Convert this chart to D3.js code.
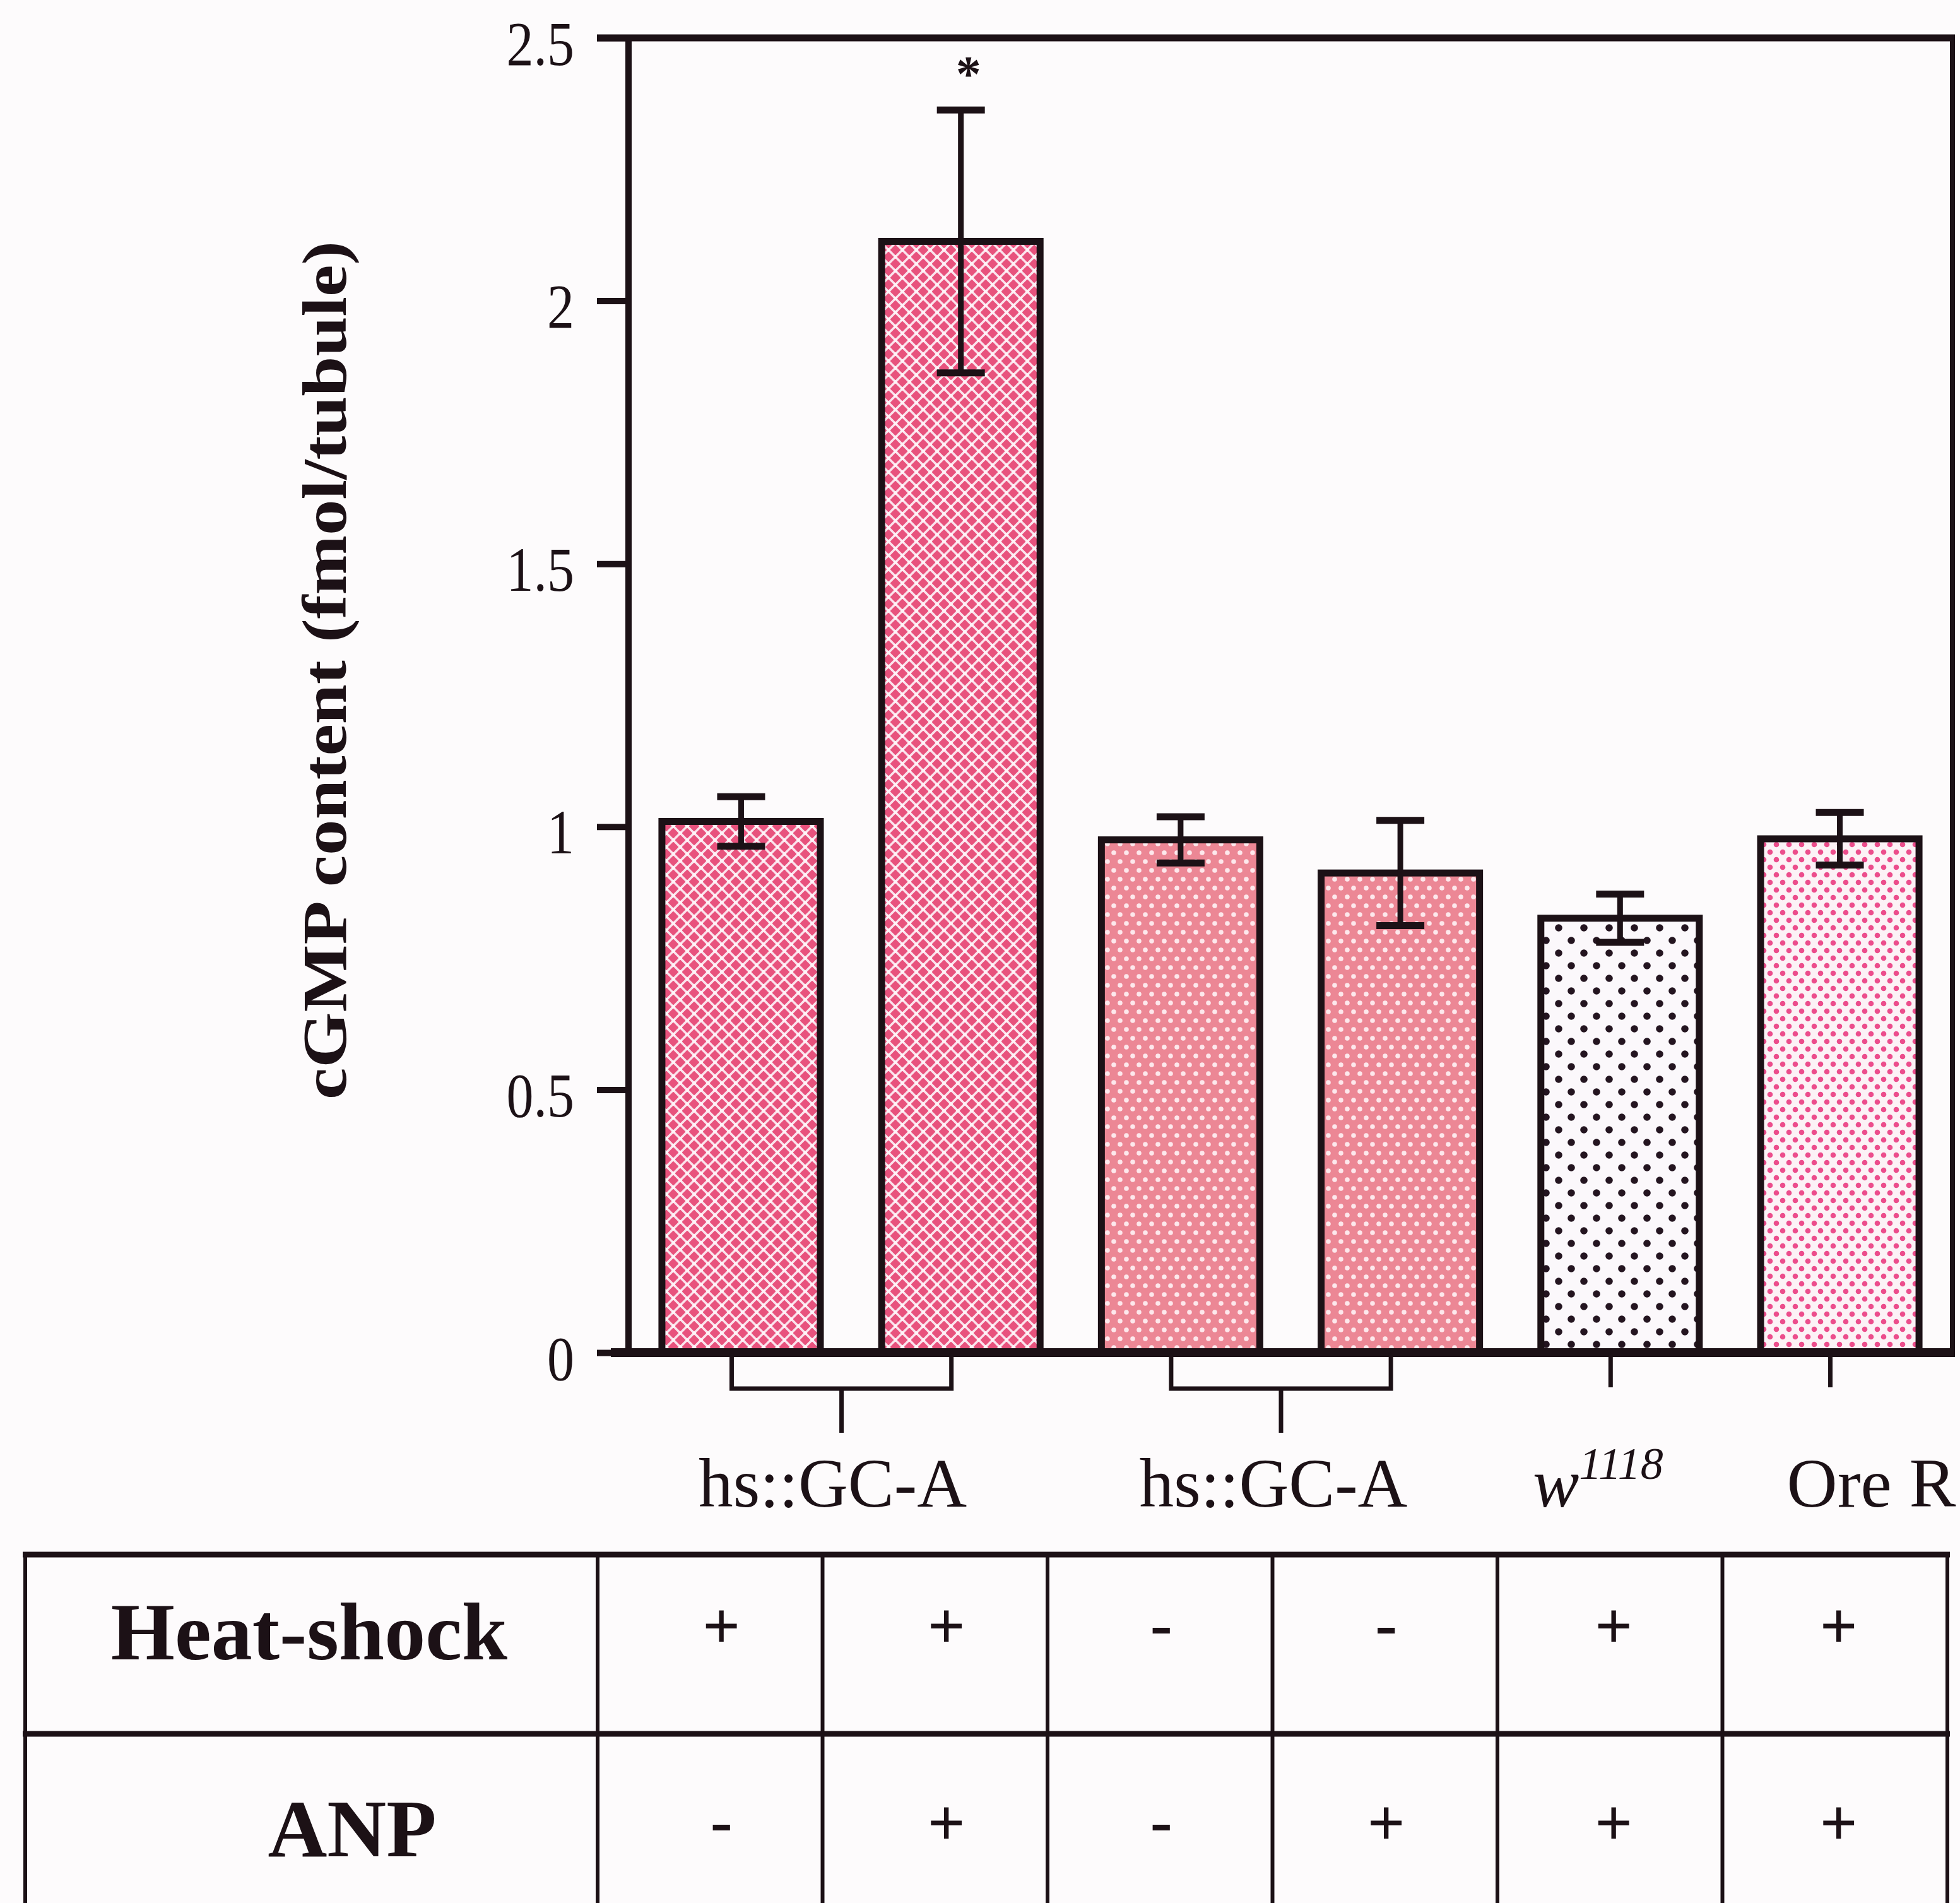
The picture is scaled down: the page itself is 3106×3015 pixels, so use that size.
<!DOCTYPE html>
<html>
<head>
<meta charset="utf-8">
<script src="https://cdn.jsdelivr.net/npm/d3@7"></script>
<style>
  html, body { margin: 0; padding: 0; background: #fdfbfc; }
  svg { display: block; }
</style>
</head>
<body>
<script>
// ---------- data ----------
const conditions = ["hsGCA_hs_noANP", "hsGCA_hs_ANP", "hsGCA_nohs_noANP", "hsGCA_nohs_ANP", "w1118", "OreR"];
const cGMP = [1.01, 2.113, 0.975, 0.912, 0.826, 0.977];
const sem = [0.047, 0.25, 0.044, 0.1, 0.046, 0.05];
const significance = ["", "*", "", "", "", ""];
const groupLabels = ["hs::GC-A", "hs::GC-A", "w1118", "Ore R"];
const groupMembers = [[0, 1], [2, 3], [4, 4], [5, 5]];
const tableRows = ["Heat-shock", "ANP"];
const heatShock = ["+", "+", "-", "-", "+", "+"];
const anp = ["-", "+", "-", "+", "+", "+"];
const yTicks = [0, 0.5, 1, 1.5, 2, 2.5];
const yTickLabels = ["0", "0.5", "1", "1.5", "2", "2.5"];
const yLabel = "cGMP content (fmol/tubule)";

// ---------- layout / style ----------
const W = 3106, H = 3015;
const plot = { left: 996, right: 3094, top: 60, bottom: 2143 };
const serif = "'Liberation Serif', 'DejaVu Serif', serif";
const ink = "#1c1116";
const fills = ["url(#pHatch)", "url(#pHatch)", "url(#pSalmon)", "url(#pSalmon)", "url(#pBlack)", "url(#pPink)"];

const svg = d3.select("body").append("svg").attr("width", W).attr("height", H);
svg.append("rect").attr("width", W).attr("height", H).attr("fill", "#fdfbfc");

// patterns
const defs = svg.append("defs");
const hp = 22;
const p1 = defs.append("pattern").attr("id", "pHatch").attr("patternUnits", "userSpaceOnUse")
  .attr("width", hp).attr("height", hp);
p1.append("rect").attr("width", hp).attr("height", hp).attr("fill", "#e8527d");
p1.append("path").attr("d", `M0,0L${hp},${hp}M${hp},0L0,${hp}`)
  .attr("stroke", "#fbe3ec").attr("stroke-width", 3.6);
[[hp / 2, hp / 2], [0, 0], [hp, 0], [0, hp], [hp, hp]].forEach(([a, b]) =>
  p1.append("circle").attr("cx", a).attr("cy", b).attr("r", 2.8).attr("fill", "#fff4f8"));

const p2 = defs.append("pattern").attr("id", "pSalmon").attr("patternUnits", "userSpaceOnUse")
  .attr("width", 20).attr("height", 28);
p2.append("rect").attr("width", 20).attr("height", 28).attr("fill", "#ec8795");
[[5, 7], [15, 21]].forEach(([a, b]) =>
  p2.append("circle").attr("cx", a).attr("cy", b).attr("r", 3.8).attr("fill", "#fde8ec"));

const p3 = defs.append("pattern").attr("id", "pBlack").attr("patternUnits", "userSpaceOnUse")
  .attr("width", 40).attr("height", 40);
p3.append("rect").attr("width", 40).attr("height", 40).attr("fill", "#fbf8fb");
[[10, 10], [30, 30]].forEach(([a, b]) =>
  p3.append("circle").attr("cx", a).attr("cy", b).attr("r", 5.8).attr("fill", "#241520"));

const p4 = defs.append("pattern").attr("id", "pPink").attr("patternUnits", "userSpaceOnUse")
  .attr("width", 20).attr("height", 24);
p4.append("rect").attr("width", 20).attr("height", 24).attr("fill", "#fcf2f6");
[[5, 6], [15, 18]].forEach(([a, b]) =>
  p4.append("circle").attr("cx", a).attr("cy", b).attr("r", 4.3).attr("fill", "#ec4d8c"));

// scales
const x = d3.scaleBand().domain(conditions).range([plot.left, plot.right])
  .paddingInner(0.279).paddingOuter(0.152);
const y = d3.scaleLinear().domain([0, 2.5]).range([plot.bottom, plot.top]);
const cx = i => x(conditions[i]) + x.bandwidth() / 2;

// bars
svg.append("g").selectAll("rect").data(conditions).join("rect")
  .attr("x", d => x(d)).attr("y", (d, i) => y(cGMP[i]))
  .attr("width", x.bandwidth()).attr("height", (d, i) => y(0) - y(cGMP[i]))
  .attr("fill", (d, i) => fills[i]).attr("stroke", ink).attr("stroke-width", 11);

// error bars
const eb = svg.append("g").attr("stroke", ink);
conditions.forEach((d, i) => {
  const c = cx(i), capW = 76;
  eb.append("line").attr("x1", c).attr("x2", c)
    .attr("y1", y(cGMP[i] - sem[i])).attr("y2", y(cGMP[i] + sem[i])).attr("stroke-width", 9);
  [cGMP[i] - sem[i], cGMP[i] + sem[i]].forEach(v =>
    eb.append("line").attr("x1", c - capW / 2).attr("x2", c + capW / 2)
      .attr("y1", y(v)).attr("y2", y(v)).attr("stroke-width", 11));
  if (significance[i]) {
    svg.append("text").attr("x", c + 12).attr("y", y(cGMP[i] + sem[i]) - 30)
      .attr("text-anchor", "middle").attr("font-family", serif).attr("font-weight", "bold")
      .attr("font-size", 80).attr("fill", ink).text(significance[i]);
  }
});

// y axis
const yAxis = d3.axisLeft(y).tickValues(yTicks)
  .tickFormat((d, i) => yTickLabels[i]).tickSize(50).tickPadding(0);
const ga = svg.append("g").attr("transform", `translate(${plot.left},0)`).call(yAxis);
ga.select(".domain").remove();
ga.selectAll(".tick line").attr("stroke", ink).attr("stroke-width", 10);
ga.selectAll(".tick text").attr("x", 0).attr("dy", "0.42em")
  .attr("transform", "translate(-86,0) scale(0.86,1)")
  .attr("font-family", serif).attr("font-size", 100).attr("fill", ink);

// frame
const frame = svg.append("g").attr("stroke", ink).attr("fill", "none");
frame.append("line").attr("x1", plot.left).attr("x2", plot.left)
  .attr("y1", plot.top).attr("y2", plot.bottom).attr("stroke-width", 10);
frame.append("line").attr("x1", plot.left - 50).attr("x2", plot.right + 4)
  .attr("y1", plot.top).attr("y2", plot.top).attr("stroke-width", 11);
frame.append("line").attr("x1", plot.right).attr("x2", plot.right)
  .attr("y1", plot.top).attr("y2", plot.bottom).attr("stroke-width", 8);
frame.append("line").attr("x1", plot.left - 28).attr("x2", plot.right + 4)
  .attr("y1", plot.bottom).attr("y2", plot.bottom).attr("stroke-width", 14);

// group brackets and labels
const br = svg.append("g").attr("stroke", ink).attr("fill", "none").attr("stroke-width", 7);
const shift = -15;
const labelDx = [-14, -12, -20, 65];
groupMembers.forEach((m, gi) => {
  const a = cx(m[0]) + shift, b = cx(m[1]) + shift;
  const yb = plot.bottom;
  let stemX;
  if (m[0] !== m[1]) {
    br.append("path").attr("d", `M${a},${yb}V${yb + 57}H${b}V${yb}`);
    stemX = (a + b) / 2;
    br.append("line").attr("x1", stemX).attr("x2", stemX)
      .attr("y1", yb + 57).attr("y2", yb + 127);
  } else {
    stemX = a;
    br.append("line").attr("x1", stemX).attr("x2", stemX)
      .attr("y1", yb).attr("y2", yb + 55);
  }
  const t = svg.append("text").attr("x", stemX + labelDx[gi]).attr("y", 2387)
    .attr("text-anchor", "middle").attr("font-family", serif).attr("font-size", 110).attr("fill", ink);
  if (groupLabels[gi] === "w1118") {
    t.append("tspan").attr("font-style", "italic").text("w");
    t.append("tspan").attr("font-style", "italic").attr("font-size", 72).attr("dy", -44).text("1118");
  } else if (groupLabels[gi].startsWith("hs")) {
    t.attr("textLength", 425).attr("lengthAdjust", "spacingAndGlyphs").text(groupLabels[gi]);
  } else {
    t.attr("textLength", 268).attr("lengthAdjust", "spacingAndGlyphs").text(groupLabels[gi]);
  }
});

// y label
svg.append("text").attr("transform", "translate(548,1062) rotate(-90)")
  .attr("text-anchor", "middle").attr("font-family", serif).attr("font-weight", "bold")
  .attr("font-size", 100).attr("textLength", 1360).attr("lengthAdjust", "spacingAndGlyphs")
  .attr("fill", ink).text(yLabel);

// condition table
const tbl = { left: 40, head: 947, right: 3086, top: 2463, rowH: 284 };
const col = d3.scaleBand().domain(conditions).range([tbl.head, tbl.right]);
const rowY = d3.scaleBand().domain(tableRows).range([tbl.top, tbl.top + 2 * tbl.rowH]);
const tg = svg.append("g").attr("stroke", ink).attr("fill", "none");
[tbl.top, tbl.top + tbl.rowH, tbl.top + 2 * tbl.rowH].forEach(v =>
  tg.append("line").attr("x1", tbl.left - 4).attr("x2", tbl.right + 4)
    .attr("y1", v).attr("y2", v).attr("stroke-width", 9));
[tbl.left, ...conditions.map(c => col(c)), tbl.right].forEach(v =>
  tg.append("line").attr("x1", v).attr("x2", v)
    .attr("y1", tbl.top).attr("y2", tbl.top + 2 * tbl.rowH).attr("stroke-width", 6));

const headX = [490, 558];
const signDx = [18, 18, 2, 2, 6, 6];
tableRows.forEach((r, ri) => {
  const cyRow = rowY(r) + rowY.bandwidth() / 2 - 22 + ri * 28;
  svg.append("text").attr("x", headX[ri]).attr("y", cyRow).attr("dy", "0.35em")
    .attr("text-anchor", "middle").attr("font-family", serif).attr("font-weight", "bold")
    .attr("font-size", 130).attr("fill", ink).text(r);
  const vals = ri === 0 ? heatShock : anp;
  conditions.forEach((c, i) => {
    svg.append("text").attr("x", col(c) + col.bandwidth() / 2 + signDx[i]).attr("y", cyRow)
      .attr("dy", vals[i] === "+" ? "0.28em" : "0.24em")
      .attr("text-anchor", "middle").attr("font-family", serif).attr("font-weight", "bold")
      .attr("font-size", 105).attr("fill", ink).text(vals[i]);
  });
});
</script>
</body>
</html>
